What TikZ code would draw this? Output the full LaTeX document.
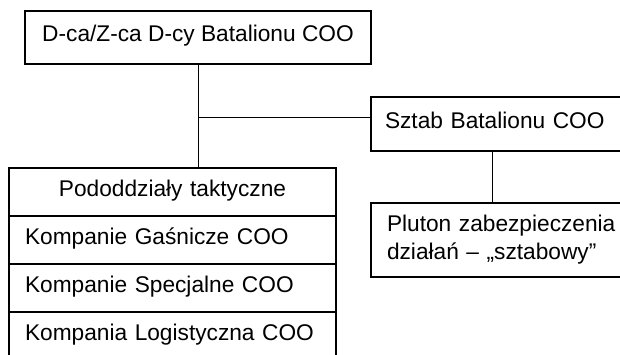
\documentclass[tikz,border=0pt]{standalone}
\usepackage{fontspec}
\setmainfont{Liberation Sans}
\usetikzlibrary{positioning}
\begin{document}
\begin{tikzpicture}[x=1pt,y=-1pt,
  box/.style={draw, line width=1.3pt, outer sep=0pt, inner sep=0pt,
    font=\fontsize{22.7}{28}\selectfont},
  one/.style={text height=16pt, text depth=8pt},
  row/.style={box, one, minimum width=327, minimum height=48,
    text width=295, align=left, inner xsep=16},
  link/.style={line width=1pt}]
  \useasboundingbox (0,0) rectangle (620,354);
  \clip (0,0) rectangle (620,354);
  \node[box, one, anchor=north west, minimum width=346, minimum height=53]
    (cmd) at (25,11) {D-ca/Z-ca D-cy Batalionu COO};
  \node[box, one, anchor=north west, minimum height=54, text width=250,
    align=left, inner xsep=14] (hq) at (371,97) {Sztab Batalionu COO};
  \node[box, anchor=north west, minimum height=74, text width=250,
    align=left, inner xsep=16] (plt) at (371,203)
    {Pluton zabezpieczenia\\działań – „sztabowy”};
  % tactical subunits
  \node[row, anchor=north west, align=center] (tact) at (9,168) {Pododdziały taktyczne};
  \node[row, below=0pt of tact] (fire) {Kompanie Gaśnicze COO};
  \node[row, below=0pt of fire] (spec) {Kompanie Specjalne COO};
  \node[row, below=0pt of spec] (log) {Kompania Logistyczna COO};
  % connectors
  \coordinate (fork) at ([yshift=7pt]hq.west);
  \coordinate (drop) at ([xshift=121pt]hq.south west);
  \draw[link] (cmd.south) -- (cmd.south |- tact.north);
  \draw[link] (cmd.south |- fork) -- (fork);
  \draw[link] (drop) -- (drop |- plt.north);
\end{tikzpicture}
\end{document}
